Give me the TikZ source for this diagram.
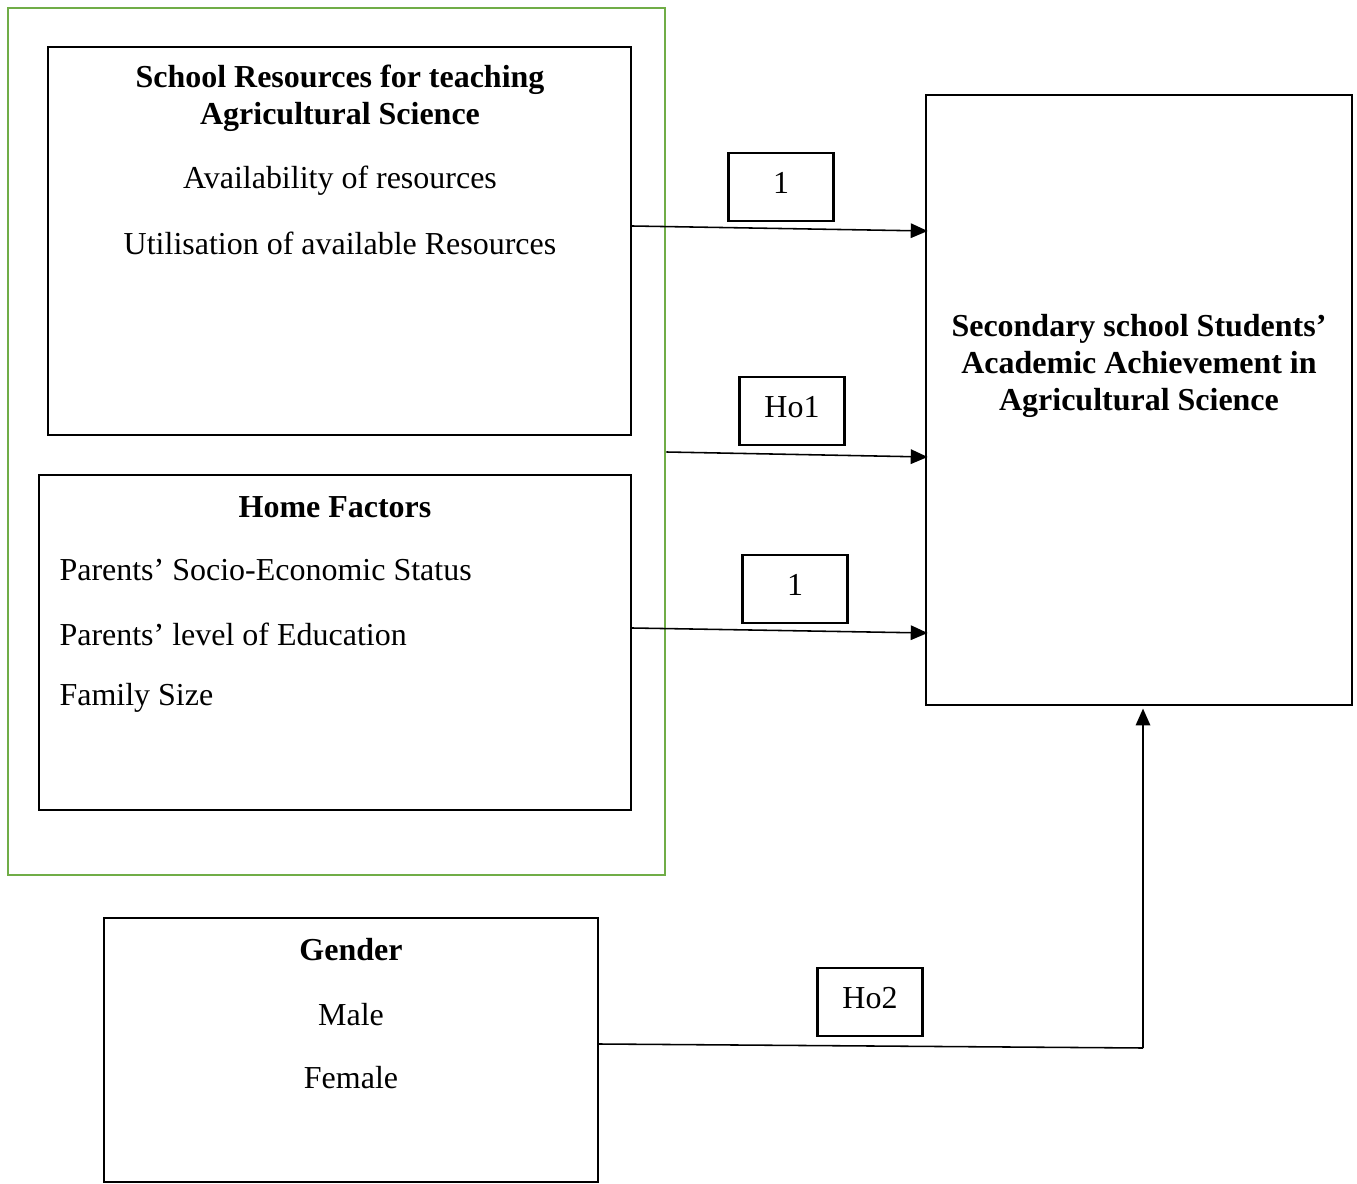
\documentclass[tikz,border=0pt]{standalone}
\usepackage{fontspec}
\setmainfont{Liberation Serif}
\usetikzlibrary{arrows.meta,fit}

\definecolor{framegreen}{RGB}{112,173,71}

\tikzset{
  box/.style={draw, line width=0.75pt, inner sep=0pt},
  lab/.style={draw, line width=0.9pt, minimum width=40.4pt, minimum height=26.2pt, inner sep=0pt, text depth=3.1pt},
  txt/.style={font=\fontsize{12.3}{14.2}\selectfont, inner sep=0pt},
  head/.style={txt, font=\fontsize{12.3}{14.2}\selectfont\bfseries, align=center},
  arr/.style={line width=0.6pt, -{Triangle[length=6.5pt, width=5.6pt]}}
}

\begin{document}
\begin{tikzpicture}[x=0.3846pt, y=-0.3846pt]
            \useasboundingbox (0,0) rectangle (1357,1184);

            % green frame round the independent variables
            \node[box, draw=framegreen, line width=1pt, fit={(8,8) (665,875)}] (frame) {};

            \node[box, fit={(48,47) (631,435)}] (school) {};
            \node[box, fit={(39,475) (631,810)}] (home) {};
            \node[box, fit={(104,918) (598,1182)}] (gender) {};
            \node[box, fit={(926,95) (1352,705)}] (ach) {};

            \node[head] (schooltitle) at (340,98) {School Resources for teaching\\Agricultural Science};
            \node[txt] (avail) at (340,181) {Availability of resources};
            \node[txt] (util) at (340,243) {Utilisation of available Resources};

            \node[head] (hometitle) at (335,507) {Home Factors};
            \node[txt, anchor=west] (ses) at (59,570) {Parents’ Socio-Economic Status};
            \node[txt, anchor=west] (edu) at (59,634) {Parents’ level of Education};
            \node[txt, anchor=west] (fam) at (59,698) {Family Size};

            \node[head] (gendertitle) at (351,950) {Gender};
            \node[txt] (male) at (351,1015) {Male};
            \node[txt] (female) at (351,1078) {Female};

            \node[head] (achtitle) at (1139,366) {Secondary school Students’\\Academic Achievement in\\Agricultural Science};

            \node[txt, lab] (l1) at (781,187) {1};
            \node[txt, lab] (ho1) at (792,411) {Ho1};
            \node[txt, lab] (l2) at (795,589) {1};
            \node[txt, lab] (ho2) at (870,1002) {Ho2};

            \coordinate (corner) at (1143,1048);

            \draw[arr] (school.east |- 0,226) -- ([xshift=1pt]ach.west |- 0,231);
            \draw[arr] (frame.east |- 0,452) -- ([xshift=1pt]ach.west |- 0,457);
            \draw[arr] (home.east |- 0,628) -- ([xshift=1pt]ach.west |- 0,633);
            \draw[line width=0.6pt] (gender.east |- 0,1044) -- (corner);
            \draw[arr] (corner) -- ([yshift=-1pt]ach.south -| corner);
        \end{tikzpicture}
\end{document}
